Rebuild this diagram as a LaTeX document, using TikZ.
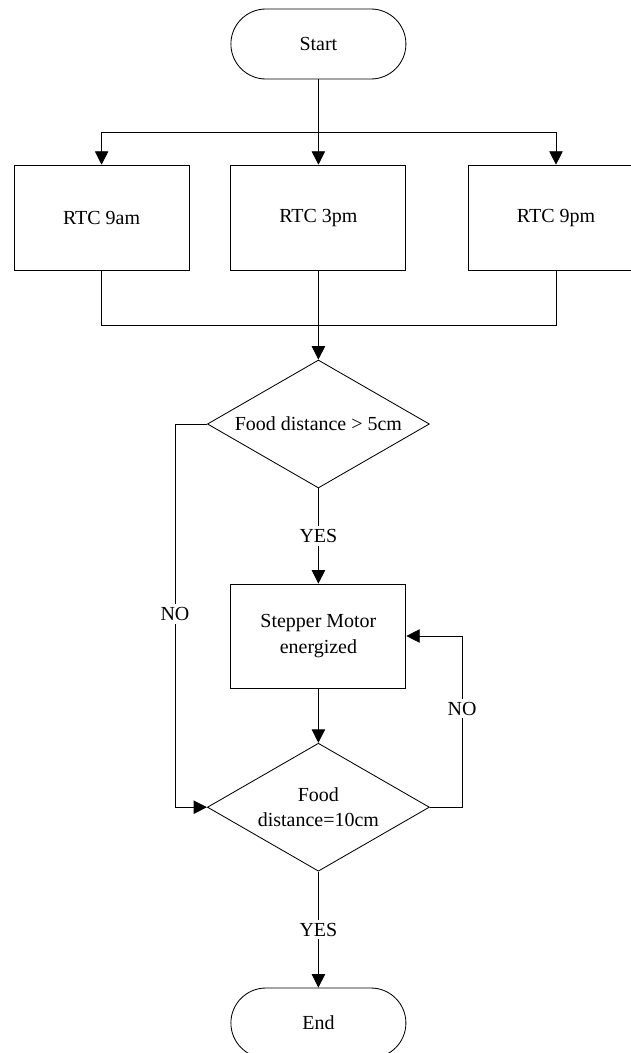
\documentclass[tikz,border=0pt]{standalone}
\usepackage{fontspec}
\setmainfont{Liberation Serif}
\usetikzlibrary{shapes.geometric,arrows.meta}

\tikzset{
  every node/.style={font=\fontsize{14.2}{18}\selectfont},
  terminal/.style={draw,rectangle,rounded corners=0.875cm,minimum width=4.375cm,minimum height=1.75cm},
  process/.style={draw,rectangle,minimum width=4.375cm,minimum height=2.6cm,align=center},
  decision/.style={draw,diamond,aspect=1.75,inner sep=0pt,minimum width=5.55cm,minimum height=3.2cm,align=center},
  arr/.style={-{Triangle[width=9.5pt,length=9.5pt]}},
  lbl/.style={fill=white,inner sep=2pt}
}

\begin{document}
\begin{tikzpicture}[line width=0.6pt]
        \clip (0,0) rectangle (15.775,-26.325);
        \fill[white] (0,0) rectangle (15.775,-26.325);
        % nodes
        \node[terminal](start) at (7.96,-1.1) {Start};
        \node[process,minimum height=2.625cm](rtca) at (2.54,-5.44) {RTC 9am};
        \node[process,minimum height=2.625cm](rtcb) at (7.96,-5.44) {RTC 3pm};
        \node[process,minimum height=2.625cm](rtcc) at (13.9,-5.44) {RTC 9pm};
        \node[decision](dist) at (7.96,-10.6) {Food distance > 5cm};
        \node[process](motor) at (7.96,-15.9) {Stepper Motor\\energized};
        \node[decision](full) at (7.96,-20.18) {Food\\distance=10cm};
        \node[terminal](stop) at (7.96,-25.575) {End};
        % corner points of the connectors
        \coordinate(split) at (7.96,-3.3);
        \coordinate(merge) at (7.96,-8.125);
        \coordinate(noleft) at (4.375,-10.6);
        \coordinate(noright) at (11.55,-20.18);
        % connectors
        \draw[arr](start)--(rtcb);
        \draw[arr](split)-|(rtca);
        \draw[arr](split)-|(rtcc);
        \draw(rtca)|-(merge);
        \draw(rtcc)|-(merge);
        \draw[arr](rtcb)--(dist);
        \draw[arr](dist.west)--(noleft)|-(full.west);
        \node[lbl](noa) at (4.375,-15.35) {NO};
        \draw[arr](dist)--node[lbl](yesa){YES}(motor);
        \draw[arr](motor)--(full);
        \draw[arr](full.east)--(noright)|-(motor.east);
        \node[lbl](nob) at (11.55,-17.72) {NO};
        \draw[arr](full)--node[lbl](yesb){YES}(stop);
\end{tikzpicture}
\end{document}
